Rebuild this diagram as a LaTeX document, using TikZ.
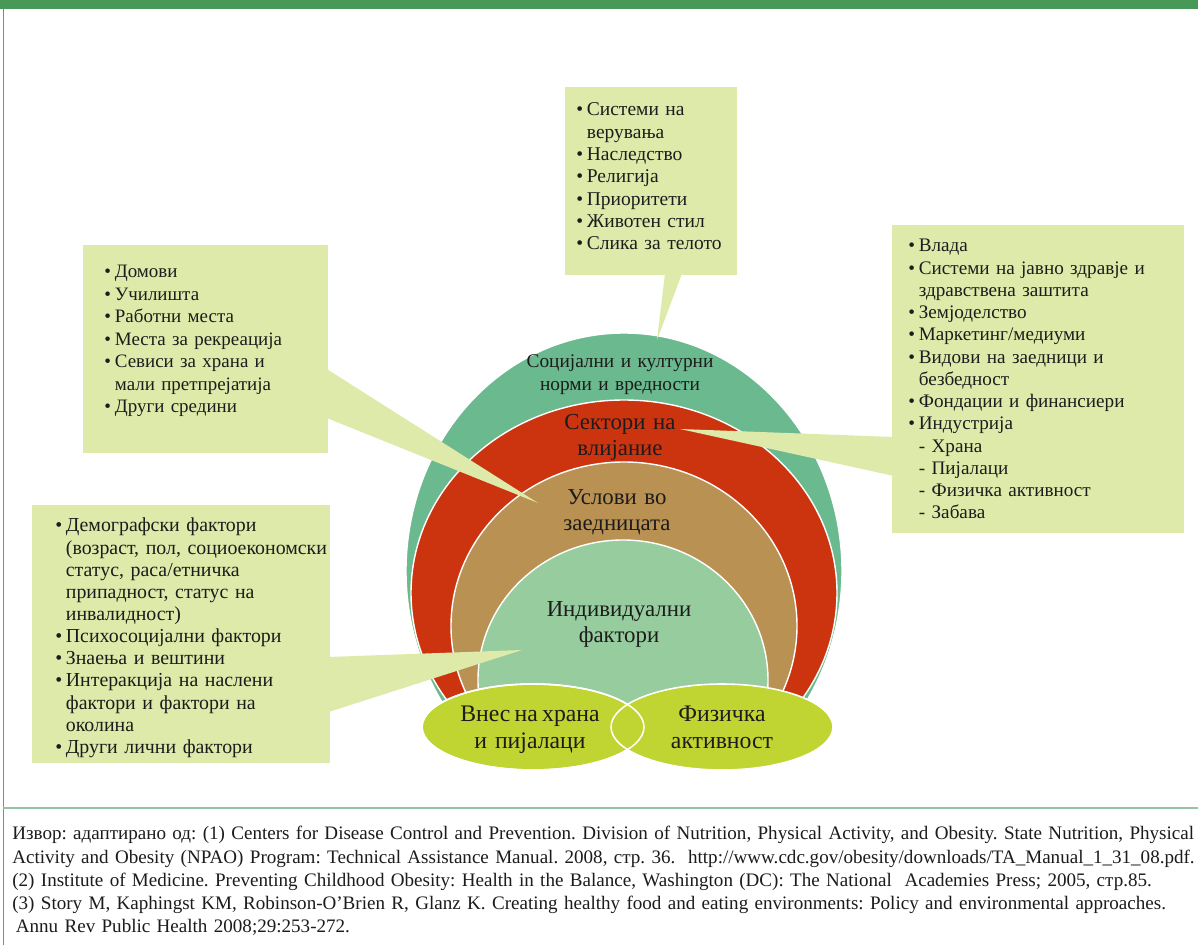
\documentclass[tikz,border=0pt]{standalone}
\usepackage{fontspec}
\setmainfont{Liberation Serif}
\usetikzlibrary{calc,shapes.geometric}
\definecolor{bandgreen}{RGB}{72,152,88}
\definecolor{framegreen}{RGB}{90,165,100}
\definecolor{sepgreen}{RGB}{150,195,160}
\definecolor{ringteal}{RGB}{107,185,143}
\definecolor{ringred}{RGB}{204,52,16}
\definecolor{ringtan}{RGB}{185,145,82}
\definecolor{ringinner}{RGB}{151,204,159}
\definecolor{ovalgreen}{RGB}{192,212,50}
\definecolor{boxfill}{RGB}{222,234,170}
\definecolor{txt}{RGB}{28,28,28}
\newcommand\bul{\makebox[6pt][l]{•}}
\newcommand\ind{\hspace*{6pt}}
\frenchspacing
\tikzset{
  callout/.style={fill=boxfill, draw=none, anchor=north west, inner sep=0pt},
  boxtext/.style={anchor=base west, inner sep=0pt, text width=6.2cm, align=left, text=txt,
    font=\fontsize{11}{12.7}\selectfont},
  ringlabel/.style={anchor=base, inner sep=0pt, text width=6cm, align=center, text=txt,
    font=\fontsize{13}{14.3}\selectfont},
  ringedge/.style={draw=white, line width=0.8pt},
  oval/.style={ellipse, fill=ovalgreen, draw=white, line width=0.9pt, inner sep=0pt,
    minimum width=4.44cm, minimum height=1.72cm},
}
\begin{document}
\begin{tikzpicture}[x=0.02cm,y=-0.02cm]
\useasboundingbox (0,0) rectangle (1198,945);
\fill[white] (0,0) rectangle (1198,945);
% frame
\fill[bandgreen] (0,0) rectangle (1198,9);
\draw[framegreen, line width=0.9pt] (3.5,9) -- (3.5,945);
\draw[sepgreen, line width=1.2pt] (3.5,808) -- (1198,808);

% rings
\begin{scope}
\clip (0,0) rectangle (1198,728);
\fill[ringteal, ringedge] (624,571) ellipse [x radius=218, y radius=238];
\fill[ringred, ringedge] (624,593) ellipse [x radius=213, y radius=193];
\fill[ringtan, ringedge] (624,626) ellipse [x radius=173, y radius=164];
\fill[ringinner, ringedge] (623,680) ellipse [x radius=145, y radius=140];
\end{scope}

% callout boxes
\node[callout, minimum width=3.44cm, minimum height=3.76cm] (boxT) at (565,87) {};
\node[callout, minimum width=4.9cm, minimum height=4.16cm] (boxL) at (83,245) {};
\node[callout, minimum width=5.84cm, minimum height=6.16cm] (boxR) at (892,225) {};
\node[callout, minimum width=5.96cm, minimum height=5.16cm] (boxB) at (32,505) {};
\coordinate (tipT) at (657,340);
\coordinate (tipL) at (538,503);
\coordinate (tipR) at (680,429);
\coordinate (tipB) at (522,650);
\fill[boxfill] ($(boxT.south west)+(100,-2)$) -- (tipT) -- ($(boxT.south west)+(117,-2)$) -- cycle;
\fill[boxfill] ($(boxL.north east)+(-2,124)$) -- (tipL) -- ($(boxL.north east)+(-2,173)$) -- cycle;
\fill[boxfill] ($(boxR.north west)+(2,212)$) -- (tipR) -- ($(boxR.north west)+(2,251)$) -- cycle;
\fill[boxfill] ($(boxB.north east)+(-2,152)$) -- (tipB) -- ($(boxB.north east)+(-2,207)$) -- cycle;

% callout texts
\node[boxtext, font=\fontsize{11.1}{12.7}\selectfont] (txtT) at (576,116) {\bul Системи на\\ \ind верувања\\ \bul Наследство\\ \bul Религија\\ \bul Приоритети\\ \bul Животен стил\\ \bul Слика за телото};
\node[boxtext, font=\fontsize{10.8}{12.75}\selectfont] (txtL) at (104,278) {\bul Домови\\ \bul Училишта\\ \bul Работни места\\ \bul Места за рекреација\\ \bul Севиси за храна и\\ \ind мали претпрејатија\\ \bul Други средини};
\node[boxtext, font=\fontsize{10.9}{12.65}\selectfont] (txtR) at (908,252) {\bul Влада\\ \bul Системи на јавно здравје и\\ \ind здравствена заштита\\ \bul Земјоделство\\ \bul Маркетинг/медиуми\\ \bul Видови на заедници и\\ \ind безбедност\\ \bul Фондации и финансиери\\ \bul Индустрија\\ \ind - Храна\\ \ind - Пијалаци\\ \ind - Физичка активност\\ \ind - Забава};
\node[boxtext, font=\fontsize{11.3}{12.6}\selectfont] (txtB) at (55,532) {\bul Демографски фактори\\ \ind (возраст, пол, социоекономски\\ \ind статус, раса/етничка\\ \ind припадност, статус на\\ \ind инвалидност)\\ \bul Психосоцијални фактори\\ \bul Знаења и вештини\\ \bul Интеракција на наслени\\ \ind фактори и фактори на\\ \ind околина\\ \bul Други лични фактори};

% ring labels
\node[ringlabel, font=\fontsize{11}{13}\selectfont] (lblSoc) at (620,368) {Социјални и културни\\ норми и вредности};
\node[ringlabel] (lblSec) at (620,430) {Сектори на\\ влијание};
\node[ringlabel] (lblUsl) at (617,505) {Услови во\\ заедницата};
\node[ringlabel] (lblInd) at (619,617) {Индивидуални\\ фактори};

% ovals
\node[oval] (ovalL) at (533,727) {};
\node[oval] (ovalR) at (722,727) {};
\draw[white, line width=0.9pt] (ovalL.center) ellipse [x radius=111, y radius=43];
\node[ringlabel, font=\fontsize{13.5}{14.8}\selectfont] (lblFood) at (530,722) {{\spaceskip=0.18em Внес на храна}\\ и пијалаци};
\node[ringlabel, font=\fontsize{13.5}{14.8}\selectfont] (lblPhys) at (722,722) {Физичка\\ активност};

% source
\node[anchor=base west, inner sep=0pt, text width=24cm, align=left, text=txt,
  font=\fontsize{10.85}{13.1}\selectfont] (src) at (12,840) {Извор: адаптирано од: (1) Centers for Disease Control and Prevention. Division of Nutrition, Physical Activity, and Obesity. State Nutrition, Physical\\
Activity and Obesity (NPAO) Program: Technical Assistance Manual. 2008, стр. 36.~~http://www.cdc.gov/obesity/downloads/TA\_Manual\_1\_31\_08.pdf.\\
(2) Institute of Medicine. Preventing Childhood Obesity: Health in the Balance, Washington (DC): The National~~Academies Press; 2005, стр.85.\\
(3) Story M, Kaphingst KM, Robinson-O’Brien R, Glanz K. Creating healthy food and eating environments: Policy and environmental approaches.\\
\hspace*{2pt}Annu Rev Public Health 2008;29:253-272.};
\end{tikzpicture}
\end{document}
